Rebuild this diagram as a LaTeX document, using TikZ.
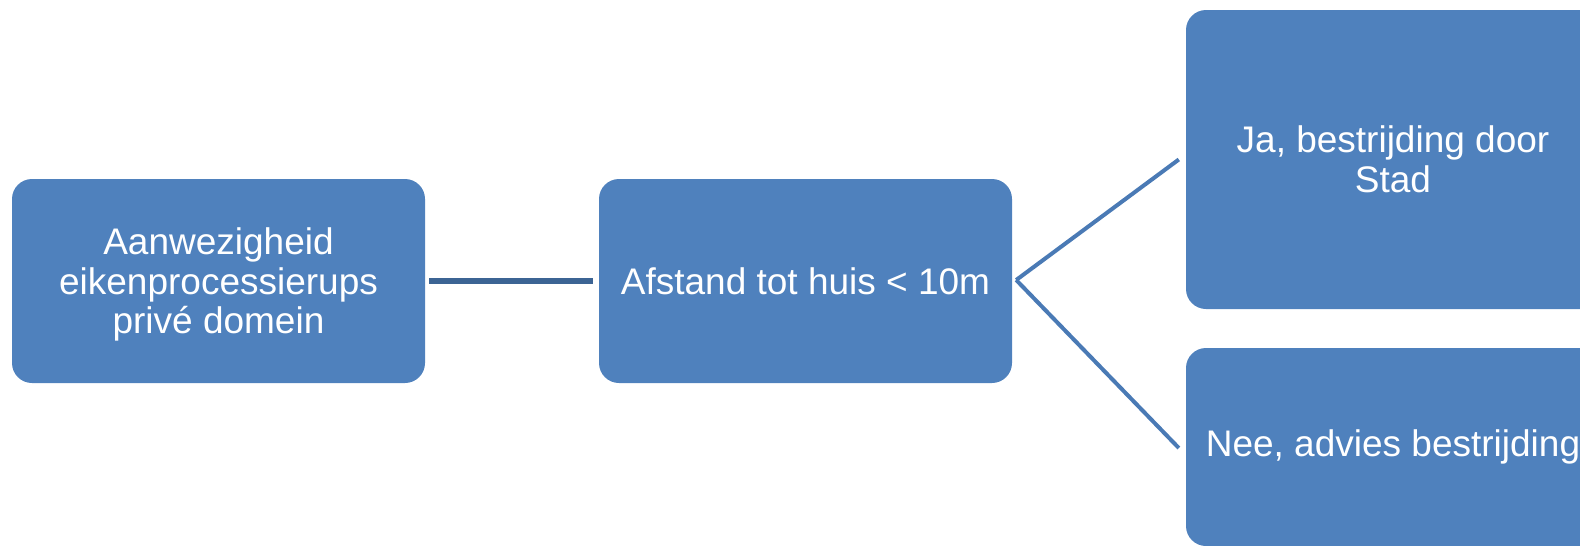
\documentclass[tikz,border=0pt]{standalone}
\usepackage{fontspec}
\setmainfont{Liberation Sans}
\usetikzlibrary{calc}
\definecolor{boxblue}{HTML}{4F81BD}
\definecolor{linedark}{HTML}{3C6494}
\definecolor{lineblue}{HTML}{4A7AB5}
\begin{document}
\begin{tikzpicture}[x=1pt,y=-1pt,
  box/.style={rectangle, rounded corners=20pt, fill=boxblue, draw=none,
    text=white, align=center, inner sep=0pt,
    font=\fontsize{37}{39.5}\selectfont},
  conn/.style={draw=lineblue, line width=4pt},
  connmain/.style={draw=linedark, line width=5.5pt}]
\useasboundingbox (0,0) rectangle (1580,546);
\clip (0,0) rectangle (1580,546);
\node[box, minimum width=413pt, minimum height=204pt, text depth=0pt] (a) at (218.5,281)
  {Aanwezigheid\\eikenprocessierups\\privé domein};
\node[box, minimum width=413pt, minimum height=204pt] (b) at (805.5,281)
  {Afstand tot huis < 10m};
\node[box, minimum width=414pt, minimum height=299pt] (c) at (1393,159.5)
  {Ja, bestrijding door\\Stad};
\node[box, minimum width=414pt, minimum height=198pt] (d) at (1393,447)
  {Nee, advies bestrijding};
\coordinate (bout) at ($(b.east)+(4,-1)$);
\coordinate (cin) at ($(c.west)+(-7,0)$);
\coordinate (din) at ($(d.west)+(-7,1)$);
\draw[connmain, shorten <=4pt, shorten >=6pt] (a.east) -- (b.west);
\draw[conn] (bout) -- (cin);
\draw[conn] (bout) -- (din);
\end{tikzpicture}
\end{document}
